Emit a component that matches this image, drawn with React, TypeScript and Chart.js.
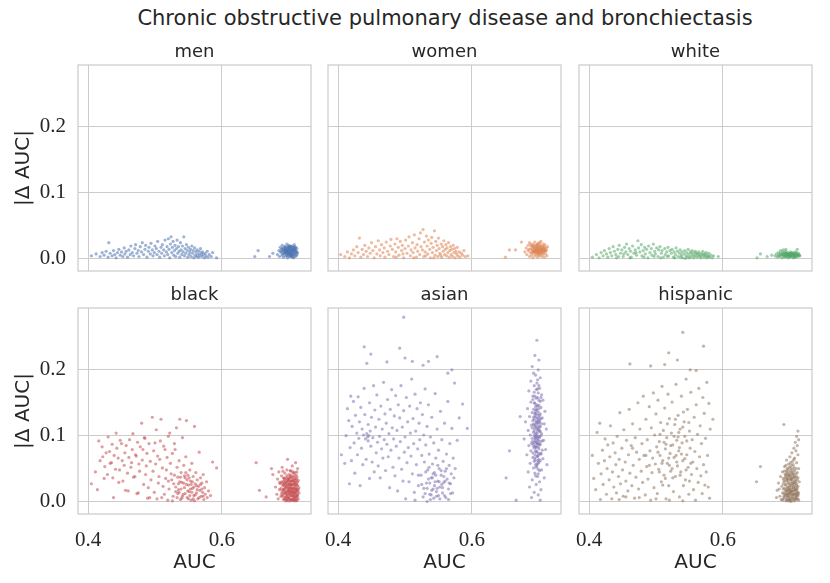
import React, { useEffect, useRef } from "react";
import { Chart, registerables } from "chart.js";

Chart.register(...registerables);

const suptitle = "Chronic obstructive pulmonary disease and bronchiectasis";
const groups = ["men", "women", "white", "black", "asian", "hispanic"];
const colors = ["76,114,176", "221,132,82", "85,168,104", "196,78,82", "129,114,179", "147,120,96"];
const xTicks = [0.4, 0.6];
const yTicks = [0, 0.1, 0.2];
const xLabel = "AUC";
const yLabel = "|\u0394 AUC|";

type Pt = [number, number];

// AUC, |delta AUC|
const menPoints: Pt[] = [
  [.405,.004],[.412,.007],[.418,.003],[.421,.009],[.424,.005],[.427,.011],[.430,.002],[.431,.024],[.433,.008],[.436,.004],[.438,.012],[.440,.006],[.442,.001],[.444,.009],[.446,.014],[.448,.005],[.450,.010],[.452,.003],[.454,.016],[.455,.007],[.457,.011],[.459,.002],[.461,.013],[.463,.006],[.464,.019],[.466,.009],[.468,.004],[.470,.015],[.471,.021],[.473,.008],[.475,.012],[.476,.003],[.478,.018],[.480,.010],[.481,.024],[.483,.006],[.485,.014],[.486,.020],[.488,.002],[.490,.011],[.491,.017],[.493,.007],[.494,.023],[.496,.013],[.497,.004],[.499,.009],[.500,.019],[.502,.015],[.503,.006],[.504,.026],[.506,.011],[.507,.002],[.509,.017],[.510,.008],[.511,.021],[.513,.013],[.514,.004],[.515,.028],[.517,.010],[.518,.018],[.519,.006],[.520,.030],[.521,.014],[.522,.001],[.523,.022],[.524,.033],[.525,.009],[.526,.017],[.527,.026],[.528,.005],[.529,.012],[.530,.020],[.531,.003],[.532,.015],[.533,.028],[.534,.008],[.535,.018],[.536,.011],[.537,.002],[.538,.024],[.539,.013],[.540,.006],[.541,.019],[.542,.010],[.543,.033],[.544,.004],[.545,.015],[.546,.008],[.547,.021],[.548,.012],[.549,.002],[.550,.017],[.551,.006],[.552,.010],[.553,.014],[.554,.003],[.555,.019],[.556,.008],[.557,.012],[.558,.001],[.559,.016],[.560,.005],[.561,.010],[.562,.003],[.563,.013],[.564,.007],[.565,.002],[.566,.011],[.567,.005],[.568,.015],[.569,.008],[.570,.003],[.571,.010],[.572,.006],[.574,.001],[.575,.008],[.576,.004],[.578,.011],[.579,.002],[.581,.006],[.584,.003],[.586,.009],[.592,.001],
  [.649,.003],[.654,.012],[.671,.003],[.676,.008],
  [.683,.006],[.685,.012],[.686,.003],[.687,.017],[.688,.009],[.689,.014],[.690,.005],[.690,.020],[.691,.011],[.692,.002],[.692,.016],[.693,.008],[.694,.013],[.694,.019],[.695,.004],[.695,.010],[.696,.015],[.696,.007],[.697,.022],[.697,.012],[.698,.001],[.698,.009],[.699,.017],[.699,.005],[.700,.013],[.700,.020],[.701,.008],[.701,.003],[.702,.015],[.702,.011],[.703,.018],[.703,.006],[.704,.010],[.704,.014],[.705,.002],[.705,.019],[.706,.008],[.706,.012],[.707,.016],[.707,.005],[.708,.010],[.708,.021],[.709,.013],[.709,.003],[.710,.008],[.710,.017],[.711,.011],[.712,.006],[.712,.015],[.713,.009],[.691,.007],[.693,.011],[.695,.017],[.697,.004],[.699,.011],[.701,.018],[.703,.009],[.705,.013],[.707,.001],[.709,.018],[.711,.004],[.688,.011],[.690,.015],[.696,.010],[.700,.007],[.704,.004],[.706,.017],[.700,.016],[.698,.014],[.702,.005],
  [.692,.013],[.694,.008],[.696,.012],[.698,.018],[.699,.007],[.701,.014],[.702,.019],[.703,.012],[.704,.007],[.705,.016],[.706,.010],[.707,.013],[.708,.007],[.709,.015],[.710,.012],[.711,.009],[.697,.009],[.700,.010],[.694,.016],[.702,.008],[.706,.005],[.708,.014],[.695,.013],[.703,.003],[.699,.013],
];

const womenPoints: Pt[] = [
  [.404,.006],[.410,.003],[.414,.010],[.417,.001],[.420,.007],[.423,.013],[.425,.004],[.428,.018],[.430,.009],[.432,.031],[.434,.002],[.436,.014],[.438,.006],[.440,.020],[.442,.011],[.444,.003],[.446,.016],[.448,.008],[.450,.024],[.452,.012],[.454,.001],[.456,.018],[.458,.007],[.460,.027],[.462,.013],[.463,.004],[.465,.021],[.467,.009],[.469,.016],[.470,.002],[.472,.025],[.474,.011],[.476,.006],[.478,.019],[.479,.029],[.481,.014],[.483,.003],[.485,.022],[.486,.010],[.488,.030],[.490,.017],[.491,.005],[.493,.026],[.495,.012],[.496,.020],[.498,.001],[.500,.015],[.501,.028],[.503,.008],[.505,.019],[.506,.033],[.508,.004],[.509,.013],[.511,.024],[.512,.009],[.514,.036],[.515,.016],[.517,.002],[.518,.021],[.519,.011],[.521,.030],[.522,.006],[.523,.039],[.524,.018],[.526,.013],[.527,.044],[.528,.003],[.529,.025],[.530,.010],[.532,.034],[.533,.019],[.534,.007],[.535,.028],[.537,.014],[.538,.001],[.539,.023],[.540,.032],[.541,.009],[.542,.017],[.544,.042],[.545,.005],[.546,.026],[.547,.012],[.548,.020],[.549,.003],[.550,.031],[.551,.015],[.552,.008],[.554,.022],[.555,.002],[.556,.018],[.557,.011],[.558,.027],[.559,.006],[.560,.014],[.561,.021],[.562,.004],[.563,.016],[.564,.009],[.565,.024],[.566,.002],[.567,.012],[.568,.018],[.569,.006],[.570,.014],[.571,.003],[.572,.020],[.573,.009],[.574,.015],[.575,.001],[.576,.011],[.577,.007],[.578,.017],[.579,.004],[.581,.010],[.582,.002],[.584,.008],[.586,.005],[.588,.012],[.590,.003],[.594,.004],[.487,.002],[.497,.007],[.513,.001],[.531,.004],[.543,.001],[.553,.005],
  [.650,.002],[.656,.013],[.665,.013],[.674,.025],
  [.679,.010],[.681,.016],[.682,.006],[.684,.020],[.684,.012],[.686,.003],[.686,.024],[.687,.009],[.688,.015],[.689,.019],[.689,.005],[.690,.012],[.691,.022],[.691,.001],[.692,.008],[.692,.017],[.693,.013],[.694,.004],[.694,.025],[.695,.010],[.695,.019],[.696,.015],[.696,.006],[.697,.021],[.697,.011],[.698,.002],[.698,.016],[.699,.008],[.699,.023],[.700,.013],[.700,.018],[.701,.005],[.701,.011],[.702,.020],[.702,.015],[.703,.008],[.703,.026],[.704,.012],[.704,.003],[.705,.017],[.705,.010],[.706,.022],[.706,.006],[.707,.014],[.708,.018],[.708,.002],[.709,.011],[.709,.021],[.710,.007],[.711,.015],[.711,.012],[.712,.004],[.713,.018],[.690,.009],[.693,.020],[.697,.016],[.700,.009],[.703,.014],[.706,.013],[.688,.021],[.685,.014],[.698,.012],[.695,.014],[.701,.024],[.692,.011],[.707,.009],
  [.690,.014],[.691,.018],[.693,.010],[.694,.016],[.696,.012],[.697,.019],[.698,.008],[.699,.014],[.700,.011],[.701,.017],[.702,.009],[.703,.019],[.704,.015],[.705,.013],[.706,.018],[.707,.011],[.708,.014],[.709,.016],[.696,.009],[.698,.021],[.700,.005],[.702,.012],[.694,.011],[.704,.008],[.710,.012],
];

const whitePoints: Pt[] = [
  [.405,.002],[.411,.006],[.415,.001],[.418,.009],[.421,.004],[.423,.012],[.426,.007],[.428,.002],[.430,.015],[.432,.009],[.434,.004],[.436,.018],[.438,.011],[.440,.006],[.441,.001],[.443,.014],[.445,.020],[.447,.008],[.449,.013],[.451,.003],[.453,.017],[.455,.010],[.456,.022],[.458,.006],[.460,.015],[.462,.011],[.463,.002],[.465,.019],[.467,.008],[.469,.013],[.471,.005],[.473,.027],[.474,.016],[.476,.010],[.478,.021],[.479,.004],[.481,.012],[.483,.017],[.484,.007],[.486,.014],[.488,.001],[.489,.019],[.491,.009],[.493,.015],[.494,.005],[.496,.022],[.498,.011],[.499,.007],[.501,.016],[.503,.003],[.504,.013],[.506,.018],[.508,.008],[.509,.012],[.511,.002],[.513,.015],[.514,.006],[.516,.010],[.518,.017],[.519,.004],[.521,.012],[.523,.008],[.524,.014],[.526,.002],[.527,.010],[.529,.006],[.530,.016],[.532,.011],[.533,.003],[.535,.008],[.536,.013],[.538,.005],[.539,.010],[.540,.001],[.542,.007],[.543,.012],[.545,.004],[.546,.009],[.547,.002],[.548,.014],[.549,.006],[.551,.010],[.552,.003],[.553,.008],[.554,.012],[.555,.005],[.556,.001],[.557,.009],[.558,.004],[.559,.011],[.560,.007],[.561,.002],[.562,.008],[.563,.005],[.564,.010],[.565,.003],[.566,.006],[.567,.001],[.568,.008],[.569,.004],[.570,.011],[.571,.006],[.572,.002],[.573,.007],[.574,.004],[.575,.009],[.576,.001],[.577,.005],[.578,.003],[.579,.008],[.580,.002],[.582,.005],[.584,.001],[.586,.004],[.593,.003],[.444,.003],[.452,.007],[.461,.001],[.470,.009],[.482,.002],[.497,.003],[.507,.001],[.517,.003],[.528,.001],[.537,.002],[.544,.000],[.550,.001],
  [.651,.001],[.656,.007],[.666,.003],[.673,.005],
  [.678,.004],[.680,.007],[.681,.002],[.683,.009],[.684,.005],[.685,.003],[.686,.008],[.687,.006],[.688,.001],[.689,.010],[.690,.004],[.691,.007],[.692,.002],[.692,.009],[.693,.005],[.694,.011],[.695,.003],[.695,.007],[.696,.006],[.697,.001],[.697,.009],[.698,.004],[.699,.008],[.700,.002],[.700,.006],[.701,.010],[.702,.004],[.702,.007],[.703,.003],[.704,.009],[.705,.005],[.705,.001],[.706,.008],[.707,.004],[.708,.006],[.708,.010],[.709,.002],[.710,.007],[.711,.005],[.711,.014],[.712,.003],[.713,.008],[.714,.005],[.715,.004],[.690,.013],[.696,.004],[.699,.005],[.703,.006],[.706,.003],[.688,.006],[.693,.008],[.701,.003],[.704,.006],[.709,.005],[.697,.006],[.683,.004],[.686,.012],[.694,.014],
  [.691,.005],[.693,.003],[.694,.007],[.696,.008],[.698,.006],[.699,.003],[.700,.008],[.702,.005],[.703,.008],[.705,.007],[.706,.005],[.707,.007],[.709,.004],[.710,.009],[.712,.006],[.689,.007],[.695,.005],[.701,.006],[.707,.002],[.713,.005],
];

const blackPoints: Pt[] = [
  [.405,.027],[.411,.045],[.414,.018],[.416,.092],[.418,.062],[.421,.083],[.422,.068],[.424,.035],[.425,.053],[.427,.074],[.429,.041],[.430,.098],[.432,.076],[.433,.058],[.435,.059],[.436,.087],[.437,.036],[.438,.006],[.439,.070],[.441,.049],[.442,.104],[.443,.081],[.445,.066],[.446,.029],[.447,.048],[.448,.093],[.450,.088],[.451,.062],[.452,.031],[.454,.055],[.455,.074],[.456,.017],[.457,.085],[.459,.043],[.460,.016],[.461,.067],[.462,.094],[.464,.052],[.465,.059],[.466,.079],[.467,.103],[.468,.037],[.470,.038],[.471,.071],[.472,.069],[.473,.012],[.474,.090],[.475,.013],[.476,.057],[.477,.046],[.478,.083],[.480,.119],[.481,.063],[.482,.079],[.483,.026],[.484,.097],[.485,.096],[.486,.041],[.487,.054],[.488,.073],[.489,.005],[.490,.021],[.491,.088],[.492,.006],[.493,.061],[.494,.033],[.496,.128],[.497,.046],[.498,.077],[.499,.014],[.500,.089],[.501,.057],[.502,.109],[.503,.004],[.504,.069],[.505,.028],[.506,.038],[.507,.064],[.508,.092],[.509,.125],[.510,.006],[.511,.051],[.512,.023],[.513,.084],[.514,.011],[.515,.079],[.516,.035],[.517,.048],[.518,.067],[.519,.002],[.520,.099],[.521,.019],[.522,.104],[.523,.058],[.524,.042],[.525,.033],[.526,.073],[.527,.008],[.528,.027],[.529,.088],[.530,.079],[.531,.015],[.532,.112],[.533,.052],[.534,.037],[.535,.018],[.536,.062],[.537,.125],[.538,.003],[.539,.044],[.540,.029],[.541,.097],[.542,.011],[.543,.055],[.544,.021],[.545,.036],[.546,.068],[.547,.123],[.548,.006],[.549,.040],[.550,.025],[.551,.015],[.552,.048],[.553,.031],[.554,.002],[.555,.058],[.556,.020],[.557,.038],[.558,.009],[.559,.114],[.560,.027],[.561,.044],[.562,.013],[.563,.033],[.564,.004],[.565,.023],[.566,.075],[.567,.017],[.568,.036],[.569,.008],[.570,.028],[.571,.014],[.572,.041],[.573,.003],[.574,.021],[.575,.011],[.577,.030],[.578,.006],[.580,.016],[.583,.009],[.586,.060],[.592,.051],[.537,.030],[.541,.008],[.544,.039],[.547,.026],[.550,.004],[.553,.019],[.556,.030],[.559,.001],[.562,.024],[.534,.012],[.529,.040],[.526,.001],[.520,.031],
  [.531,.022],[.533,.006],[.535,.027],[.536,.014],[.538,.037],[.539,.019],[.540,.005],[.543,.028],[.545,.012],[.546,.044],[.548,.033],[.549,.016],[.551,.036],[.552,.009],[.554,.026],[.555,.014],[.557,.004],[.558,.022],[.560,.010],[.563,.018],[.566,.006],[.568,.026],[.570,.019],[.572,.008],
  [.651,.059],[.656,.017],[.666,.007],[.674,.050],[.676,.041],
  [.680,.022],[.682,.011],[.683,.034],[.684,.004],[.685,.045],[.686,.018],[.687,.027],[.688,.008],[.689,.039],[.690,.015],[.690,.052],[.691,.024],[.692,.003],[.692,.031],[.693,.012],[.694,.020],[.694,.043],[.695,.007],[.695,.029],[.696,.016],[.696,.036],[.697,.002],[.697,.023],[.698,.064],[.698,.010],[.699,.033],[.699,.018],[.700,.005],[.700,.026],[.700,.041],[.701,.013],[.701,.021],[.702,.030],[.702,.001],[.702,.047],[.703,.017],[.703,.009],[.704,.025],[.704,.037],[.705,.004],[.705,.054],[.705,.014],[.706,.031],[.706,.020],[.707,.008],[.707,.043],[.708,.027],[.708,.012],[.709,.035],[.709,.002],[.710,.059],[.710,.019],[.710,.006],[.711,.028],[.711,.040],[.712,.015],[.712,.009],[.713,.024],[.713,.050],[.714,.004],[.714,.032],[.715,.013],[.715,.021],[.688,.020],[.691,.046],[.693,.028],[.695,.001],[.697,.039],[.699,.006],[.701,.035],[.703,.026],[.704,.011],[.706,.002],[.708,.018],[.709,.025],[.711,.001],[.707,.033],[.700,.016],[.698,.030],[.696,.011],[.694,.033],[.692,.017],[.689,.012],[.686,.029],[.703,.040],[.706,.045],[.709,.011],[.712,.037],[.701,.004],[.697,.048],[.704,.020],[.708,.005],
  [.689,.030],[.690,.008],[.691,.018],[.692,.025],[.693,.004],[.693,.035],[.694,.013],[.695,.022],[.696,.003],[.696,.028],[.697,.014],[.698,.020],[.698,.005],[.699,.026],[.700,.011],[.700,.032],[.701,.017],[.702,.009],[.702,.024],[.703,.003],[.703,.031],[.704,.015],[.705,.026],[.705,.008],[.706,.013],[.706,.037],[.707,.021],[.707,.003],[.708,.030],[.708,.014],[.709,.007],[.709,.021],[.710,.032],[.710,.013],[.711,.009],[.711,.018],[.712,.026],[.712,.002],[.713,.016],[.713,.008],
  [.690,.028],[.691,.010],[.692,.036],[.693,.019],[.694,.006],[.695,.014],[.696,.024],[.697,.008],[.698,.034],[.699,.001],[.700,.021],[.701,.027],[.702,.013],[.702,.038],[.703,.021],[.704,.002],[.704,.031],[.705,.018],[.706,.009],[.706,.026],[.707,.015],[.708,.039],[.708,.001],[.709,.029],[.710,.016],[.710,.024],[.711,.005],[.711,.034],[.712,.020],[.713,.011],[.713,.030],[.714,.018],[.694,.026],[.697,.031],[.700,.036],[.703,.046],[.705,.033],[.709,.044],[.712,.045],[.699,.015],
];

const asianPoints: Pt[] = [
  [.498,.280],[.439,.235],[.449,.224],[.492,.233],[.443,.210],[.473,.212],[.500,.218],[.511,.213],[.527,.207],[.535,.213],[.548,.220],[.570,.200],[.564,.195],
  [.405,.071],[.410,.058],[.412,.100],[.414,.141],[.416,.123],[.417,.027],[.418,.082],[.419,.160],[.420,.062],[.421,.114],[.423,.152],[.424,.089],[.425,.043],[.426,.131],[.428,.104],[.429,.071],[.430,.159],[.431,.096],[.432,.121],[.433,.024],[.434,.143],[.435,.081],[.436,.110],[.437,.056],[.438,.101],[.439,.172],[.440,.132],[.441,.095],[.442,.064],[.443,.103],[.444,.098],[.445,.117],[.445,.092],[.446,.100],[.447,.150],[.447,.035],[.448,.107],[.449,.084],[.450,.128],[.451,.060],[.452,.097],[.453,.176],[.454,.045],[.455,.139],[.456,.113],[.457,.074],[.458,.162],[.459,.090],[.460,.054],[.461,.125],[.462,.099],[.463,.036],[.464,.145],[.465,.080],[.466,.110],[.467,.066],[.468,.181],[.469,.094],[.470,.133],[.471,.047],[.472,.119],[.473,.087],[.474,.155],[.475,.068],[.476,.103],[.477,.021],[.478,.140],[.479,.078],[.480,.170],[.481,.112],[.482,.052],[.483,.095],[.484,.130],[.485,.039],[.486,.161],[.487,.084],[.488,.108],[.489,.016],[.490,.147],[.491,.066],[.492,.127],[.493,.091],[.494,.176],[.495,.049],[.496,.113],[.497,.031],[.498,.138],[.499,.075],[.500,.098],[.501,.004],[.502,.158],[.503,.059],[.504,.121],[.505,.082],[.506,.030],[.507,.145],[.508,.104],[.509,.069],[.510,.186],[.511,.042],[.512,.126],[.513,.088],[.514,.014],[.515,.163],[.516,.107],[.517,.056],[.518,.141],[.519,.080],[.520,.024],[.521,.119],[.522,.094],[.523,.150],[.524,.040],[.525,.070],[.526,.132],[.527,.007],[.528,.101],[.529,.060],[.530,.171],[.531,.086],[.532,.028],[.533,.114],[.534,.048],[.535,.147],[.536,.072],[.537,.011],[.538,.098],[.539,.036],[.540,.128],[.541,.057],[.542,.019],[.543,.089],[.544,.044],[.545,.164],[.546,.066],[.547,.008],[.548,.110],[.549,.031],[.550,.078],[.551,.050],[.552,.022],[.553,.137],[.554,.040],[.555,.094],[.556,.013],[.557,.061],[.558,.029],[.559,.119],[.560,.046],[.561,.006],[.562,.072],[.563,.034],[.564,.152],[.565,.019],[.566,.055],[.567,.088],[.568,.027],[.569,.042],[.570,.111],[.571,.013],[.572,.066],[.573,.036],[.574,.180],[.575,.050],[.578,.093],[.581,.127],[.586,.148],[.593,.111],[.520,.040],[.525,.026],[.530,.012],[.535,.034],[.540,.017],[.545,.030],[.550,.009],[.555,.026],[.560,.031],[.565,.003],[.538,.003],[.528,.020],[.515,.002],[.548,.020],[.533,.000],[.542,.042],
  [.531,.045],[.533,.020],[.536,.052],[.537,.028],[.539,.010],[.541,.036],[.543,.005],[.544,.024],[.546,.040],[.547,.015],[.549,.055],[.551,.030],[.552,.004],[.554,.047],[.556,.021],[.558,.038],[.559,.009],[.562,.050],[.566,.028],[.568,.012],
  [.651,.036],[.656,.077],[.666,.002],[.672,.129],
  [.697,.245],[.694,.222],[.700,.215],[.690,.205],[.699,.200],[.695,.192],[.702,.188],[.688,.183],[.697,.180],[.693,.176],[.701,.172],[.685,.168],[.699,.165],[.704,.162],[.691,.160],[.696,.157],[.706,.154],[.688,.151],[.694,.149],[.700,.146],[.703,.143],[.683,.141],[.697,.139],[.709,.137],[.690,.135],[.695,.133],[.701,.131],[.686,.129],[.705,.127],[.693,.125],[.699,.123],[.680,.121],[.696,.119],[.708,.118],[.689,.116],[.702,.114],[.694,.112],[.711,.110],[.684,.108],[.698,.107],[.692,.105],[.704,.103],[.687,.101],[.700,.099],[.695,.097],[.678,.095],[.707,.093],[.690,.091],[.697,.089],[.702,.087],[.685,.085],[.699,.083],[.693,.081],[.710,.079],[.688,.077],[.696,.075],[.703,.073],[.682,.071],[.698,.069],[.691,.067],[.706,.065],[.694,.063],[.700,.060],[.687,.058],[.712,.056],[.697,.054],[.692,.051],[.704,.048],[.684,.045],[.699,.042],[.695,.039],[.708,.036],[.690,.033],[.701,.030],[.696,.026],[.686,.022],[.703,.018],[.693,.014],[.699,.010],[.689,.006],[.702,.002],[.694,.130],[.698,.126],[.701,.121],[.692,.118],[.697,.113],[.700,.109],[.695,.104],[.703,.100],[.690,.096],[.698,.094],[.693,.090],[.701,.086],[.696,.082],[.705,.078],[.691,.074],[.699,.070],[.694,.066],[.702,.062],[.697,.057],[.692,.140],[.699,.136],[.695,.144],[.702,.152],[.698,.158],[.693,.166],[.700,.176],[.696,.101],[.699,.117],[.694,.092],[.700,.128],
  [.693,.150],[.697,.147],[.700,.141],[.695,.137],[.698,.132],[.692,.128],[.701,.124],[.696,.122],[.699,.111],[.693,.108],[.697,.103],[.701,.097],[.694,.095],[.698,.088],[.692,.084],[.700,.080],[.695,.077],[.703,.072],[.697,.068],[.693,.061],[.699,.058],[.696,.052],[.701,.047],[.694,.043],[.698,.038],[.702,.133],[.690,.112],[.704,.118],[.689,.088],[.705,.092],[.691,.155],[.703,.158],[.696,.170],[.698,.185],[.692,.195],[.700,.064],[.697,.120],[.695,.115],[.699,.098],[.696,.090],
  [.694,.134],[.698,.145],[.696,.128],[.700,.120],[.693,.116],[.697,.110],[.701,.106],[.695,.099],[.699,.093],[.692,.087],[.696,.085],[.700,.073],[.694,.071],[.698,.062],[.702,.091],[.695,.056],[.699,.049],[.693,.100],[.697,.097],[.701,.113],[.703,.126],[.691,.123],[.696,.140],[.700,.154],[.694,.160],[.698,.171],[.697,.076],[.695,.083],[.699,.088],[.702,.107],
];

const hispanicPoints: Pt[] = [
  [.540,.257],[.571,.236],[.519,.226],[.461,.209],[.492,.206],[.513,.208],[.532,.215],[.551,.200],[.560,.199],[.585,.125],
  [.405,.070],[.407,.035],[.410,.018],[.412,.105],[.414,.058],[.416,.119],[.417,.003],[.418,.042],[.420,.078],[.421,.026],[.423,.062],[.424,.095],[.426,.011],[.427,.050],[.428,.086],[.430,.033],[.431,.068],[.432,.115],[.434,.004],[.435,.045],[.436,.089],[.437,.022],[.439,.074],[.440,.056],[.441,.013],[.442,.099],[.444,.038],[.445,.064],[.446,.135],[.447,.027],[.449,.081],[.450,.048],[.451,.008],[.452,.109],[.454,.060],[.455,.031],[.456,.093],[.458,.016],[.459,.071],[.460,.140],[.461,.043],[.463,.085],[.464,.024],[.465,.118],[.466,.055],[.468,.005],[.469,.097],[.470,.037],[.471,.075],[.473,.150],[.474,.019],[.475,.064],[.476,.110],[.478,.046],[.479,.088],[.480,.029],[.481,.160],[.482,.070],[.484,.010],[.485,.125],[.486,.053],[.487,.094],[.488,.034],[.490,.144],[.491,.077],[.492,.002],[.493,.112],[.494,.044],[.495,.066],[.496,.165],[.497,.021],[.498,.101],[.499,.057],[.500,.133],[.501,.083],[.502,.012],[.503,.154],[.504,.049],[.505,.091],[.506,.070],[.507,.120],[.508,.030],[.509,.175],[.510,.062],[.511,.108],[.512,.040],[.513,.142],[.514,.080],[.515,.004],[.516,.097],[.517,.058],[.518,.163],[.519,.024],[.520,.126],[.521,.073],[.522,.046],[.523,.104],[.524,.151],[.525,.086],[.526,.015],[.527,.067],[.528,.117],[.529,.038],[.530,.178],[.531,.093],[.532,.054],[.533,.131],[.534,.077],[.535,.007],[.536,.110],[.537,.045],[.538,.160],[.539,.089],[.540,.062],[.541,.024],[.542,.121],[.543,.099],[.544,.033],[.545,.186],[.546,.071],[.547,.140],[.548,.052],[.549,.011],[.550,.107],[.551,.081],[.552,.166],[.553,.041],[.554,.094],[.555,.060],[.556,.018],[.557,.128],[.558,.076],[.559,.002],[.560,.147],[.561,.050],[.562,.102],[.563,.029],[.564,.172],[.565,.068],[.566,.115],[.567,.039],[.568,.088],[.569,.012],[.570,.158],[.571,.056],[.572,.134],[.573,.025],[.574,.096],[.575,.045],[.576,.181],[.577,.070],[.578,.022],[.579,.149],[.580,.005],[.581,.110],[.505,.045],[.510,.025],[.515,.087],[.520,.055],[.525,.036],[.530,.070],[.535,.082],[.540,.113],[.545,.048],[.550,.031],[.485,.070],[.475,.006],[.465,.081],[.455,.007],[.445,.003],[.500,.004],[.520,.002],[.540,.001],[.490,.055],[.533,.098],
  [.503,.075],[.506,.102],[.509,.058],[.512,.090],[.514,.035],[.517,.118],[.519,.066],[.522,.085],[.524,.050],[.527,.099],[.529,.125],[.531,.060],[.534,.105],[.536,.040],[.538,.072],[.541,.136],[.543,.065],[.546,.092],[.549,.120],[.552,.058],
  [.650,.030],[.656,.053],[.691,.117],
  [.712,.107],[.710,.099],[.713,.094],[.708,.090],[.711,.085],[.706,.081],[.709,.077],[.703,.074],[.712,.071],[.700,.068],[.707,.066],[.695,.063],[.704,.061],[.710,.059],[.698,.057],[.702,.055],[.692,.053],[.706,.052],[.713,.050],[.697,.048],[.701,.047],[.689,.045],[.705,.044],[.709,.042],[.694,.041],[.699,.040],[.686,.038],[.703,.037],[.712,.036],[.696,.035],[.700,.034],[.691,.032],[.707,.031],[.714,.030],[.698,.029],[.683,.028],[.704,.027],[.694,.026],[.701,.025],[.710,.024],[.688,.023],[.697,.022],[.705,.021],[.692,.020],[.700,.019],[.708,.018],[.681,.017],[.695,.016],[.703,.015],[.712,.014],[.689,.013],[.698,.012],[.706,.011],[.693,.010],[.701,.009],[.685,.008],[.709,.007],[.696,.006],[.704,.005],[.690,.004],[.699,.003],[.713,.002],[.694,.001],[.702,.000],[.687,.003],[.707,.004],[.680,.006],[.697,.008],[.711,.010],[.691,.012],[.702,.016],[.694,.018],[.699,.021],[.705,.024],[.690,.027],[.708,.028],[.696,.031],[.702,.033],[.693,.036],[.710,.038],[.699,.044],[.704,.049],[.694,.055],[.701,.059],[.706,.064],[.698,.001],[.703,.011],[.695,.009],[.700,.014],[.697,.040],[.692,.046],[.706,.037],[.684,.019],[.709,.012],[.702,.042],[.696,.050],[.711,.020],
  [.691,.008],[.693,.015],[.695,.003],[.696,.021],[.697,.011],[.698,.027],[.699,.006],[.700,.017],[.701,.033],[.701,.002],[.702,.012],[.703,.022],[.703,.045],[.704,.008],[.704,.030],[.705,.016],[.705,.002],[.706,.026],[.706,.041],[.707,.012],[.707,.020],[.708,.035],[.708,.006],[.709,.017],[.709,.050],[.710,.027],[.710,.004],[.711,.014],[.711,.033],[.712,.009],[.692,.030],[.694,.038],[.695,.046],[.697,.034],[.699,.052],[.700,.039],[.702,.028],[.698,.018],[.700,.004],[.696,.013],
  [.689,.002],[.690,.019],[.692,.006],[.693,.025],[.694,.011],[.695,.033],[.696,.002],[.697,.017],[.698,.038],[.699,.013],[.700,.024],[.700,.001],[.701,.015],[.702,.036],[.703,.005],[.703,.019],[.704,.041],[.705,.010],[.706,.029],[.706,.016],[.707,.001],[.707,.038],[.708,.022],[.708,.011],[.709,.031],[.710,.009],[.710,.018],[.711,.044],[.712,.023],[.712,.004],[.713,.012],[.690,.035],[.693,.041],[.696,.043],[.698,.009],[.701,.051],[.704,.034],[.705,.056],[.707,.047],[.709,.003],
];

const panelPoints = [menPoints, womenPoints, whitePoints, blackPoints, asianPoints, hispanicPoints];

const FRAME_LEFT = [78, 328, 579];
const FRAME_TOP = [65, 308];
const FRAME_W = 233;
const FRAME_H = 206;
const TITLE_H = 30;
const SANS = "'DejaVu Sans', sans-serif";
const SERIF = "'Liberation Serif', serif";

const framePlugin = {
  id: "frame",
  afterDraw(chart: Chart) {
    const { ctx, chartArea } = chart;
    ctx.save();
    ctx.strokeStyle = "#cccccc";
    ctx.lineWidth = 1.25;
    ctx.strokeRect(chartArea.left, chartArea.top, chartArea.right - chartArea.left, chartArea.bottom - chartArea.top);
    ctx.restore();
  },
};

function Panel({ index }: { index: number }) {
  const canvasRef = useRef<HTMLCanvasElement | null>(null);
  const row = Math.floor(index / 3);
  const col = index % 3;
  const padL = col === 0 ? 78 : 12;
  const padB = row === 1 ? 69 : 4;
  const padR = 4;
  const w = padL + FRAME_W + padR;
  const h = TITLE_H + FRAME_H + padB;

  useEffect(() => {
    if (!canvasRef.current) return;
    const chart = new Chart(canvasRef.current, {
      type: "scatter",
      data: {
        datasets: [
          {
            data: panelPoints[index].map(([x, y]) => ({ x, y })),
            backgroundColor: `rgba(${colors[index]},0.55)`,
            borderWidth: 0,
            pointRadius: 1.6,
            pointHoverRadius: 1.6,
          },
        ],
      },
      options: {
        responsive: false,
        animation: false,
        events: [],
        layout: { padding: { left: 0, top: 0, right: padR, bottom: 0 } },
        plugins: {
          legend: { display: false },
          tooltip: { enabled: false },
          title: {
            display: true,
            text: groups[index],
            fullSize: false,
            color: "#262626",
            font: { family: SANS, size: 18, lineHeight: 1, weight: "normal" },
            padding: { top: 8, bottom: 4 },
          },
        },
        scales: {
          x: {
            type: "linear",
            min: 0.385,
            max: 0.733,
            afterBuildTicks: (s: any) => {
              s.ticks = xTicks.map((v) => ({ value: v }));
            },
            afterFit: (s: any) => {
              s.height = padB;
              s.paddingLeft = 0;
              s.paddingRight = 0;
              s.paddingTop = 0;
              s.paddingBottom = 0;
            },
            grid: { color: "#cccccc", lineWidth: 1, drawTicks: false },
            border: { display: false },
            ticks: {
              display: row === 1,
              padding: 14,
              color: "#262626",
              font: { family: SERIF, size: 21 },
              callback: (v: any) => Number(v).toFixed(1),
            },
            title: {
              display: row === 1,
              text: xLabel,
              color: "#262626",
              font: { family: SANS, size: 20 },
              padding: { top: 0, bottom: 8 },
            },
          },
          y: {
            type: "linear",
            min: -0.019,
            max: 0.294,
            afterBuildTicks: (s: any) => {
              s.ticks = yTicks.map((v) => ({ value: v }));
            },
            afterFit: (s: any) => {
              s.width = padL;
              s.paddingLeft = 0;
              s.paddingRight = 0;
              s.paddingTop = 0;
              s.paddingBottom = 0;
            },
            grid: { color: "#cccccc", lineWidth: 1, drawTicks: false },
            border: { display: false },
            ticks: {
              display: col === 0,
              padding: 12,
              color: "#262626",
              font: { family: SERIF, size: 21 },
              callback: (v: any) => Number(v).toFixed(1),
            },
            title: {
              display: col === 0,
              text: yLabel,
              color: "#262626",
              font: { family: SANS, size: 20 },
              padding: { top: 12, bottom: 0 },
            },
          },
        },
      },
      plugins: [framePlugin],
    });
    return () => chart.destroy();
  }, [index]);

  return (
    <canvas
      ref={canvasRef}
      width={w}
      height={h}
      style={{
        position: "absolute",
        left: FRAME_LEFT[col] - padL,
        top: FRAME_TOP[row] - TITLE_H,
        width: w,
        height: h,
      }}
    />
  );
}

export default function App() {
  return (
    <div style={{ position: "absolute", left: 0, top: 0, width: 830, height: 583, background: "#fff", overflow: "hidden" }}>
      <div
        style={{
          position: "absolute",
          left: 445,
          top: 6,
          transform: "translateX(-50%)",
          whiteSpace: "nowrap",
          fontFamily: SANS,
          fontSize: 21,
          lineHeight: "24px",
          color: "#262626",
        }}
      >
        {suptitle}
      </div>
      {groups.map((g, i) => (
        <Panel key={g} index={i} />
      ))}
    </div>
  );
}
